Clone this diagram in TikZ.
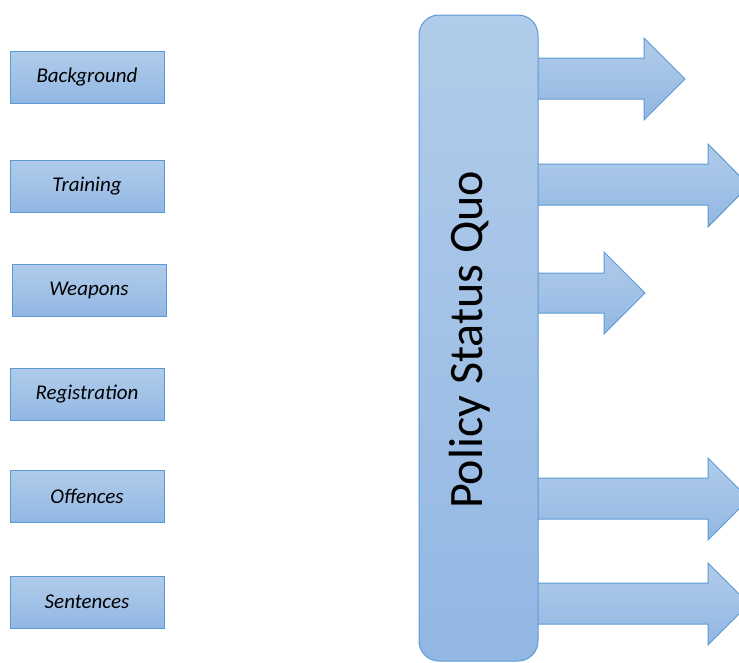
\documentclass[tikz,border=0pt]{standalone}
\usepackage{fontspec}
\setmainfont{Carlito}
\definecolor{bordc}{RGB}{91,155,213}
\definecolor{topc}{RGB}{177,204,234}
\definecolor{botc}{RGB}{146,183,227}
\tikzset{
  topicbox/.style={draw=bordc, line width=1pt, top color=topc, bottom color=botc,
    minimum width=154pt, minimum height=52pt, inner sep=0pt,
    font=\fontsize{21}{25}\selectfont\itshape},
  bigbox/.style={draw=bordc, line width=1pt, top color=topc, bottom color=botc,
    rounded corners=20pt, minimum width=119pt, minimum height=646pt, inner sep=0pt},
  fatarw/.style={draw=bordc, line width=1pt, top color=topc, bottom color=botc, line join=miter}
}
\newcommand\fatarrowpath[6]{% shaft top, shaft bottom, head x, tip x, head top, head bottom
  \path[fatarw] ([xshift=-3pt]psq.east |- 0,#1) -- (#3,#1) -- (#3,#5) -- (#4,{(#5+#6)/2}) -- (#3,#6) -- (#3,#2) -- ([xshift=-3pt]psq.east |- 0,#2) -- cycle;}
\begin{document}
\begin{tikzpicture}[x=1pt,y=-1pt]
\clip (0,0) rectangle (739,662);
\fill[white] (0,0) rectangle (739,662);
\coordinate (psqc) at (478.5,338);
\node[topicbox] (bg) at (87,77) {Background};
\node[topicbox] (tr) at (87,186) {Training};
\node[topicbox] (we) at (89,290) {Weapons};
\node[topicbox] (re) at (87,394) {Registration};
\node[topicbox] (of) at (87,496) {Offences};
\node[topicbox] (se) at (87,602) {Sentences};
\path (psqc) node[minimum width=119pt, minimum height=646pt, inner sep=0pt] (psq) {};
\fatarrowpath{58}{99}{644}{685}{38}{120}
\fatarrowpath{164}{205}{708}{749}{144}{227}
\fatarrowpath{273}{313}{604}{645}{252}{334}
\fatarrowpath{478}{519}{708}{749}{458}{540}
\fatarrowpath{583}{624}{708}{749}{563}{645}
\node[bigbox] (psqbox) at (psqc) {};
\node[rotate=90, anchor=base, inner sep=0pt, font=\fontsize{48}{56}\selectfont] (psqtext) at (482,340) {Policy Status Quo};
\end{tikzpicture}
\end{document}
